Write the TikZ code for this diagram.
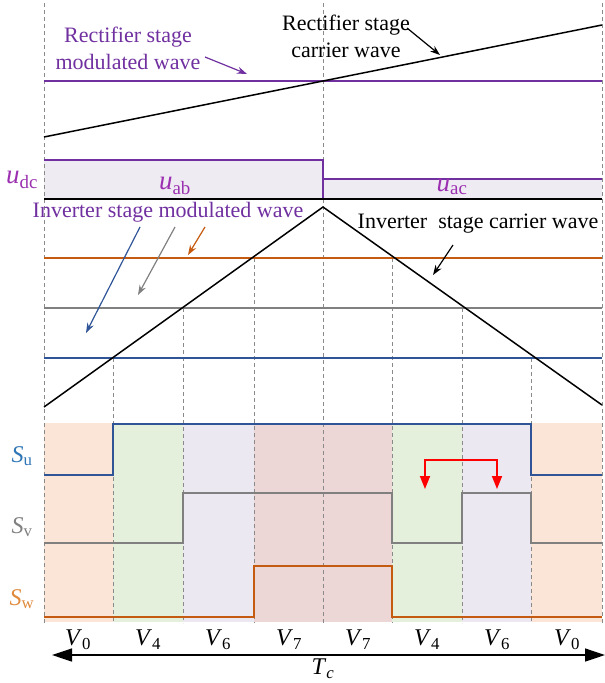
\documentclass[tikz,border=0pt]{standalone}
\usepackage{fontspec}
\setmainfont{Liberation Serif}
\usetikzlibrary{arrows.meta}
\definecolor{cpurple}{HTML}{7030A0}
\definecolor{ulab}{HTML}{9B30B0}
\definecolor{cblue}{HTML}{2F5597}
\definecolor{cbluelab}{HTML}{2E75B6}
\definecolor{cgray}{HTML}{808080}
\definecolor{corange}{HTML}{C55A11}
\definecolor{corangelab}{HTML}{E08A3C}
\definecolor{cpeach}{HTML}{FBE5D6}
\definecolor{cgreen}{HTML}{E4EFDC}
\definecolor{clav}{HTML}{ECE8F1}
\definecolor{cpink}{HTML}{EDD6D6}
\definecolor{cufill}{HTML}{EFEBF3}
\definecolor{cguide}{HTML}{8A8A8A}
\begin{document}
\begin{tikzpicture}[x=1pt,y=-1pt,
  guide/.style={draw=cguide, dash pattern=on 4pt off 3pt, line width=0.7pt},
  wave/.style={line width=1.5pt},
  sig/.style={line width=2.3pt, line join=miter},
  lab/.style={font=\fontsize{22}{27}\selectfont, inner sep=0pt, align=center},
  sym/.style={font=\fontsize{24}{28}\selectfont, inner sep=0pt},
  usym/.style={font=\fontsize{27}{30}\selectfont, inner sep=0pt},
  note/.style={-{Stealth[length=10pt,width=7pt]}, line width=1.2pt}]
\useasboundingbox (0,0) rectangle (605,683);
% shaded switching regions
\fill[cpeach] (44,423) rectangle (113,622);
\fill[cgreen] (113,423) rectangle (183,622);
\fill[clav] (183,423) rectangle (254,622);
\fill[cpink] (254,423) rectangle (392,622);
\fill[cgreen] (392,423) rectangle (462,622);
\fill[clav] (462,423) rectangle (531,622);
\fill[cpeach] (531,423) rectangle (602,622);
% dc-link area
\fill[cufill] (44,160) -| (323,179) -| (602,199) -| cycle;
% guides
\draw[guide] (44,3) -- (44,623);
\draw[guide] (323,3) -- (323,623);
\draw[guide] (602,3) -- (602,623);
\draw[guide] (113,358) -- (113,623);
\draw[guide] (531,358) -- (531,623);
\draw[guide] (183,308) -- (183,623);
\draw[guide] (462,308) -- (462,623);
\draw[guide] (254,258) -- (254,623);
\draw[guide] (392,258) -- (392,623);
% rectifier stage
\draw[cpurple, wave] (44,81) -- (602,81);
\draw[black, wave] (44,137) -- (602,25);
% dc voltage
\draw[cpurple, wave] (44,160) -| (323,179) -- (602,179);
\draw[cpurple, wave] (323,179) -- (323,199);
\draw[black, wave] (44,199) -- (602,199);
% inverter stage
\draw[corange, wave] (44,258) -- (602,258);
\draw[cgray, wave] (44,308) -- (602,308);
\draw[cblue, wave] (44,358) -- (602,358);
\draw[black, wave, line join=miter] (44,407) -- (323,207) -- (602,405);
% switching signals
\draw[cblue, sig] (44,475) -- (113,475) -- (113,424) -- (531,424) -- (531,475) -- (602,475);
\draw[cgray, sig] (44,543) -- (183,543) -- (183,493) -- (392,493) -- (392,543) -- (462,543) -- (462,493) -- (531,493) -- (531,543) -- (602,543);
\draw[corange, sig] (44,617) -- (254,617) -- (254,566) -- (392,566) -- (392,617) -- (602,617);
% red arrow
\coordinate (ra) at (425,489);
\coordinate (rb) at (497,489);
\draw[red, line width=1.8pt, {Triangle[length=13pt,width=10pt]}-{Triangle[length=13pt,width=10pt]}] (ra) -- (425,460) -- (497,460) -- (rb);
% texts
\node[lab, text=cpurple] (recmod) at (128,48) {Rectifier stage\\modulated wave};
\node[lab] (reccar) at (346,36) {Rectifier stage\\carrier wave};
\node[lab, text=cpurple] (invmod) at (168,212) {Inverter stage modulated wave};
\node[lab] (invcar) at (478,224) {Inverter\ \ stage carrier wave};
\node[usym, text=ulab] (udc) at (22,180) {\textit{u}\textsubscript{dc}};
\node[usym, text=ulab] (uab) at (175,186) {\textit{u}\textsubscript{ab}};
\node[usym, text=ulab] (uac) at (452,187) {\textit{u}\textsubscript{ac}};
\node[sym, text=cbluelab] (Su) at (22,456) {\textit{S}\textsubscript{u}};
\node[sym, text=cgray] (Sv) at (22,527) {\textit{S}\textsubscript{v}};
\node[sym, text=corangelab] (Sw) at (22,599) {\textit{S}\textsubscript{w}};
\node[sym] (v1) at (78,640) {\textit{V}\textsubscript{0}};
\node[sym] (v2) at (148,640) {\textit{V}\textsubscript{4}};
\node[sym] (v3) at (218,640) {\textit{V}\textsubscript{6}};
\node[sym] (v4) at (289,640) {\textit{V}\textsubscript{7}};
\node[sym] (v5) at (358,640) {\textit{V}\textsubscript{7}};
\node[sym] (v6) at (427,640) {\textit{V}\textsubscript{4}};
\node[sym] (v7) at (497,640) {\textit{V}\textsubscript{6}};
\node[sym] (v8) at (567,640) {\textit{V}\textsubscript{0}};
\node[sym] (Tc) at (323,669) {\textit{T}\textsubscript{\textit{c}}};
% annotation arrows
\coordinate (a1s) at (205,57); \coordinate (a1e) at (247,74);
\draw[note, cpurple] (a1s) -- (a1e);
\coordinate (a2s) at (407,28); \coordinate (a2e) at (440,55);
\draw[note] (a2s) -- (a2e);
\coordinate (a3s) at (140,227); \coordinate (a3e) at (86,333);
\draw[note, cblue] (a3s) -- (a3e);
\coordinate (a4s) at (175,227); \coordinate (a4e) at (138,295);
\draw[note, cgray] (a4s) -- (a4e);
\coordinate (a5s) at (205,227); \coordinate (a5e) at (188,255);
\draw[note, corange] (a5s) -- (a5e);
\coordinate (a6s) at (453,245); \coordinate (a6e) at (433,275);
\draw[note] (a6s) -- (a6e);
% time axis
\coordinate (tl) at (52,655); \coordinate (tr) at (605,655);
\draw[line width=1.3pt, {Triangle[length=20pt,width=13pt]}-{Triangle[length=20pt,width=13pt]}] (tl) -- (tr);
\end{tikzpicture}
\end{document}
